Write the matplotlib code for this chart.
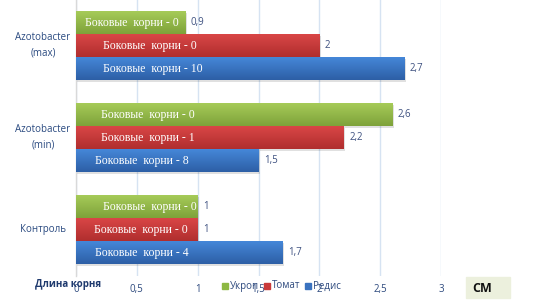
import matplotlib
matplotlib.use("Agg")
import matplotlib.pyplot as plt
import numpy as np
from matplotlib.colors import LinearSegmentedColormap

categories = ["Azotobacter\n(max)", "Azotobacter\n(min)", "Контроль"]
series_names = ["Укроп", "Томат", "Редис"]
ukrop = [0.9, 2.6, 1]
tomat = [2, 2.2, 1]
redis = [2.7, 1.5, 1.7]
value_labels = [["0,9", "2,6", "1"], ["2", "2,2", "1"], ["2,7", "1,5", "1,7"]]
side_roots = [[0, 0, 0], [0, 1, 0], [10, 8, 4]]
xticks = [0, 0.5, 1, 1.5, 2, 2.5, 3]
xtick_labels = ["0", "0,5", "1", "1,5", "2", "2,5", "3"]

# label centre positions (style, in data units)
label_x = [[0.46, 0.59, 0.61], [0.61, 0.59, 0.53], [0.63, 0.54, 0.54]]

top_cols = ["#A6CB58", "#D94646", "#4587D8"]
bot_cols = ["#7EA23A", "#B02E2E", "#2D5FA6"]
legend_cols = ["#8DB843", "#C93A3A", "#3A72BF"]

fig = plt.figure(figsize=(5.59, 3.06), dpi=100)
ax = fig.add_axes([76 / 559, 1 - 275.5 / 306, 365 / 559, 275.5 / 306])

series = [ukrop, tomat, redis]
h = 0.25
ypos = np.arange(len(categories))
for i, vals in enumerate(series):
    y = ypos - h + i * h
    # soft shadow
    ax.barh(y + 0.02, vals, left=0.012, height=h, color="#000000",
            alpha=0.12, edgecolor="none", zorder=2)
    bars = ax.barh(y, vals, height=h, color="none", edgecolor="none", zorder=3)
    cmap = LinearSegmentedColormap.from_list("g", [top_cols[i], bot_cols[i]])
    for j, b in enumerate(bars):
        x0, y0 = b.get_x(), b.get_y()
        w, hh = b.get_width(), b.get_height()
        grad = np.linspace(0, 1, 50).reshape(-1, 1)
        im = ax.imshow(grad, cmap=cmap, aspect="auto",
                       extent=(x0, x0 + w, y0 + hh, y0), zorder=3,
                       interpolation="bilinear")
        im.set_clip_path(b)
        ax.text(label_x[i][j], y[j], f"Боковые  корни - {side_roots[i][j]}",
                ha="center", va="center", color="white",
                family="Liberation Serif", fontsize=8.5, zorder=5)
        ax.text(vals[j] + 0.045, y[j], value_labels[i][j], ha="left",
                va="center", color="#3E5180", fontsize=7,
                family="Open Sans", zorder=5)

ax.set_xlim(0, 3)
ax.set_ylim(2.5, -0.5)
ax.set_xticks(xticks)
ax.set_xticklabels(xtick_labels, color="#2E4A7E", fontsize=7,
                   family="Open Sans")
ax.set_yticks([])
ax.tick_params(axis="x", length=0, pad=6)
ax.grid(axis="x", color="#D6E3F2", linewidth=1, zorder=0)
for s in ["top", "right", "bottom"]:
    ax.spines[s].set_visible(False)
ax.spines["left"].set_color("#D9D9D9")
ax.spines["left"].set_linewidth(1)

for j, c in enumerate(categories):
    fig.text(43 / 559, 1 - (45.5 + j * 92) / 306, c, ha="center",
             va="center", color="#2A4A80", fontsize=7, family="Open Sans",
             linespacing=1.5)

fig.text(35 / 559, 1 - 285 / 306, "Длина корня", ha="left", va="center",
         color="#1F3A6E", fontsize=7, weight="bold", family="Open Sans")

# legend
lx = [222, 264, 305]
for k, name in enumerate(series_names):
    fig.patches.append(plt.Rectangle((lx[k] / 559, 1 - 289 / 306), 6 / 559,
                                     6 / 306, transform=fig.transFigure,
                                     color=legend_cols[k]))
    fig.text((lx[k] + 8) / 559, 1 - 286 / 306, name, ha="left", va="center",
             color="#2E4A7E", fontsize=7, family="Open Sans")

fig.patches.append(plt.Rectangle((466 / 559, 1 - 298 / 306), 44 / 559,
                                 21 / 306, transform=fig.transFigure,
                                 color="#ECF0DD"))
fig.text(472 / 559, 1 - 288 / 306, "СМ", ha="left", va="center",
         color="#111111", fontsize=9, weight="bold", family="Open Sans")

fig.savefig("out.png", dpi=100)
